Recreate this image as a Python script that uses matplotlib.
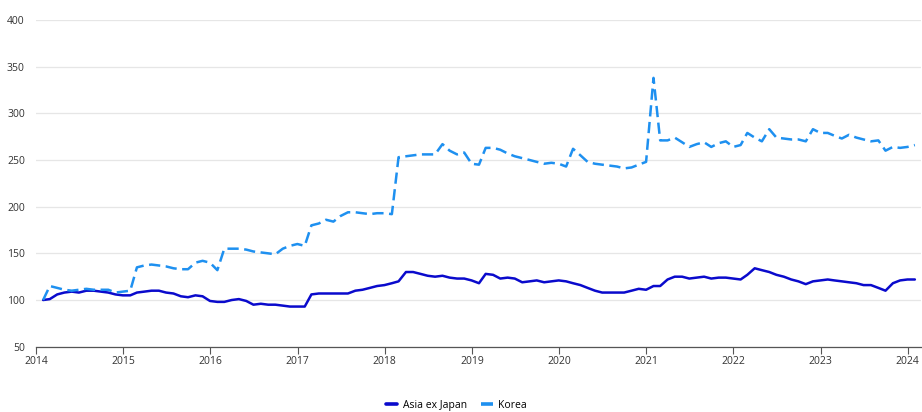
#!/usr/bin/env python3
"""Asia ex Japan vs Korea index, monthly, 2014-2024."""

import matplotlib.pyplot as plt
import matplotlib.dates as mdates
import pandas as pd

# month-end dates, Jan 2014 .. Jan 2024
START = '2014-01-31'
N_MONTHS = 121

ASIA_EX_JAPAN = [
    100, 101, 106, 108, 109, 108, 110, 110, 109, 108, 106, 105,
    105, 108, 109, 110, 110, 108, 107, 104, 103, 105, 104, 99,
    98, 98, 100, 101, 99, 95, 96, 95, 95, 94, 93, 93,
    93, 106, 107, 107, 107, 107, 107, 110, 111, 113, 115, 116,
    118, 120, 130, 130, 128, 126, 125, 126, 124, 123, 123, 121,
    118, 128, 127, 123, 124, 123, 119, 120, 121, 119, 120, 121,
    120, 118, 116, 113, 110, 108, 108, 108, 108, 110, 112, 111,
    115, 115, 122, 125, 125, 123, 124, 125, 123, 124, 124, 123,
    122, 127, 134, 132, 130, 127, 125, 122, 120, 117, 120, 121,
    122, 121, 120, 119, 118, 116, 116, 113, 110, 118, 121, 122,
    122,
]
KOREA = [
    100, 115, 113, 111, 110, 111, 112, 111, 111, 111, 108, 109,
    110, 135, 137, 138, 137, 136, 134, 133, 133, 140, 142, 140,
    132, 155, 155, 155, 154, 152, 151, 150, 149, 155, 158, 160,
    158, 180, 182, 186, 184, 190, 194, 194, 193, 192, 193, 193,
    192, 253, 254, 255, 256, 256, 256, 267, 260, 256, 258, 246,
    245, 263, 263, 261, 257, 254, 252, 250, 248, 246, 247, 246,
    243, 262, 255, 248, 246, 245, 244, 243, 241, 242, 245, 248,
    338, 271, 271, 274, 269, 264, 267, 269, 264, 268, 270, 264,
    266, 279, 274, 270, 283, 274, 273, 272, 272, 270, 283, 279,
    279, 276, 273, 277, 274, 272, 270, 271, 260, 264, 263, 264,
    266,
]
YEAR_TICKS = list(range(2014, 2025))
Y_TICKS = [50, 100, 150, 200, 250, 300, 350, 400]


def main() -> None:
    dates = pd.date_range(START, periods=N_MONTHS, freq='ME')

    plt.rcParams['font.family'] = ['Open Sans', 'DejaVu Sans']
    fig = plt.figure(figsize=(9.22, 4.12), dpi=100)
    ax = fig.add_axes([0.039, 0.1585, 0.96, 0.793])

    ax.plot(dates, ASIA_EX_JAPAN, color='#0a0acc', linewidth=1.8,
            label='Asia ex Japan', solid_capstyle='round')
    ax.plot(dates, KOREA, color='#1e90f0', linewidth=1.8,
            linestyle=(0, (4.5, 2.2)), label='Korea')

    ax.set_ylim(50, 400)
    ax.set_yticks(Y_TICKS)
    ax.set_xlim(pd.Timestamp('2014-01-01'), pd.Timestamp('2024-02-26'))
    ax.set_xticks([pd.Timestamp(f'{y}-01-01') for y in YEAR_TICKS])
    ax.xaxis.set_major_formatter(mdates.DateFormatter('%Y'))

    ax.grid(axis='y', color='#e6e6e6', linewidth=0.9)
    ax.set_axisbelow(True)
    for side in ('top', 'right', 'left'):
        ax.spines[side].set_visible(False)
    ax.spines['bottom'].set_color('#555555')
    ax.spines['bottom'].set_linewidth(0.9)

    ax.tick_params(axis='y', length=0, pad=8, labelsize=7.5,
                   labelcolor='#333333')
    ax.tick_params(axis='x', length=5, width=0.8, color='#555555',
                   pad=1.5, labelsize=7.5, labelcolor='#333333')

    leg = ax.legend(loc='center', bbox_to_anchor=(0.475, -0.18),
                    ncol=2, frameon=False, fontsize=7.5,
                    handlelength=1.1, columnspacing=1.4,
                    handletextpad=0.5)
    for line in leg.get_lines():
        line.set_linewidth(2.6)

    fig.savefig('out.png', dpi=100)
    plt.close(fig)


if __name__ == '__main__':
    main()
